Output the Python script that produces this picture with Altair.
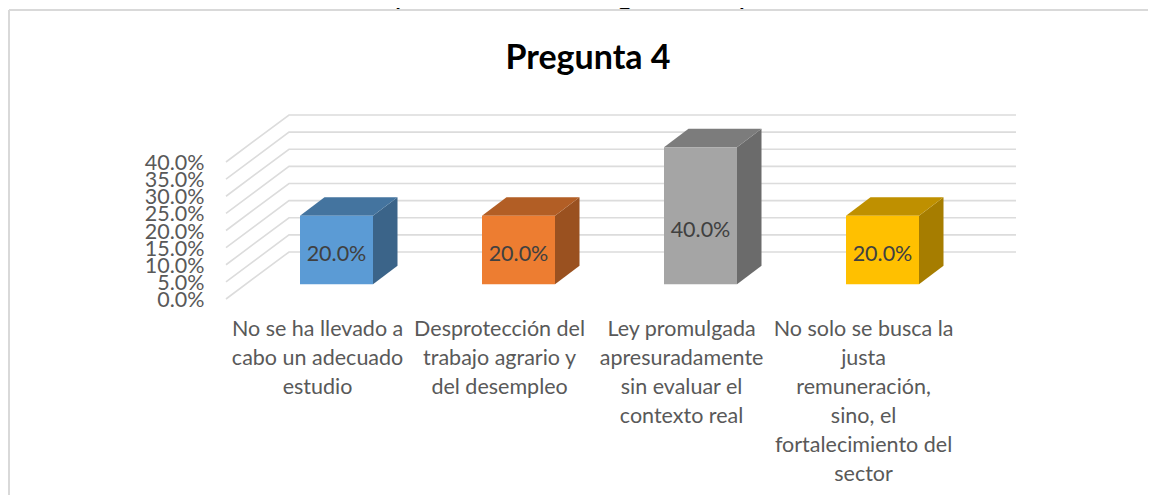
import altair as alt
import pandas as pd

# ---- data ----
categories = [
    "No se ha llevado a\ncabo un adecuado\nestudio",
    "Desprotección del\ntrabajo agrario y\ndel desempleo",
    "Ley promulgada\napresuradamente\nsin evaluar el\ncontexto real",
    "No solo se busca la\njusta\nremuneración,\nsino, el\nfortalecimiento del\nsector",
]
values = [0.20, 0.20, 0.40, 0.20]
value_labels = ["20.0%", "20.0%", "40.0%", "20.0%"]
label_heights = [0.134, 0.134, 0.2015, 0.134]
label_centres = [0.0, 1.0, 2.0, 3.0]
cat_label_centres = [-0.104, 0.896, 1.896, 2.896]
ticks = [0, 0.05, 0.10, 0.15, 0.20, 0.25, 0.30, 0.35, 0.40]
front_colors = ["#5b9bd5", "#ed7d31", "#a5a5a5", "#ffc000"]
top_colors = ["#44749f", "#b25e25", "#7c7c7c", "#bf9000"]
side_colors = ["#3b6489", "#9a5120", "#6b6b6b", "#a67d00"]

# ---- layout constants (page pixels -> data units) ----
PX_X = 182.0
PX_Y = 0.05 / 17.125
def X(px):
    return (px - 336.5) / PX_X
def Y(px):
    return (299 - px) * PX_Y

BAR_W = 73 / PX_X
BAR_DX = 24.5 / PX_X
BAR_DY = 18.5 * PX_Y
BAR_BASE = 14.7 * PX_Y
WALL_DY = 47 * PX_Y

# the page keeps an 8px margin on the right and bottom as well
W, H = 1139, 485
xs = alt.Scale(domain=[X(9), X(9 + W)], nice=False, zero=False)
ys = alt.Scale(domain=[Y(10 + H), Y(10)], nice=False, zero=False)

y_axis = alt.Axis(values=ticks, format=".1%", domain=False, ticks=False,
                  grid=False, title=None, offset=-217, labelPadding=22,
                  labelFont="Lato", labelFontSize=21.5, labelColor="#595959",
                  labelBaseline="middle", labelOverlap=False, labelBound=False,
                  labelFlush=False, labelOffset=1.5)
ex = alt.X("x:Q", scale=xs, axis=None)
ey = alt.Y("y:Q", scale=ys, axis=y_axis)

# wall and floor gridlines
grid_rows = []
for t in ticks:
    grid_rows += [
        {"tick": t, "o": 0, "x": X(226), "y": t},
        {"tick": t, "o": 1, "x": X(289), "y": t + WALL_DY},
        {"tick": t, "o": 2, "x": X(1016), "y": t + WALL_DY},
    ]
grid = alt.Chart(pd.DataFrame(grid_rows)).mark_line(
    color="#dcdcdc", strokeWidth=1.6
).encode(x=ex, y=ey, detail="tick:N", order="o:Q")

# 3D box faces, computed from the values
side_rows, top_rows, front_rows = [], [], []
for i, v in enumerate(values):
    l, r = i - BAR_W / 2, i + BAR_W / 2
    b, t = BAR_BASE, BAR_BASE + v
    front_rows.append({"b": i, "x": l, "x2": r, "y": b, "y2": t})
    side_rows += [
        {"b": i, "x": r, "y": t, "y2": b},
        {"b": i, "x": r + BAR_DX, "y": t + BAR_DY, "y2": b + BAR_DY},
    ]
    top_rows += [
        {"b": i, "x": l, "y": t, "y2": t},
        {"b": i, "x": l + BAR_DX, "y": t + BAR_DY, "y2": t},
        {"b": i, "x": r, "y": t + BAR_DY, "y2": t},
        {"b": i, "x": r + BAR_DX, "y": t + BAR_DY, "y2": t + BAR_DY},
    ]

def face(rows, colors):
    return alt.Chart(pd.DataFrame(rows)).mark_area(orient="vertical", opacity=1, line=False).encode(
        x=ex, y=ey, y2="y2:Q",
        color=alt.Color("b:N", scale=alt.Scale(domain=[0, 1, 2, 3], range=colors), legend=None),
    )

side = face(side_rows, side_colors)
top = face(top_rows, top_colors)
front = alt.Chart(pd.DataFrame(front_rows)).mark_rect().encode(
    x=ex, x2="x2:Q", y=ey, y2="y2:Q",
    color=alt.Color("b:N", scale=alt.Scale(domain=[0, 1, 2, 3], range=front_colors), legend=None),
)

data_labels = alt.Chart(pd.DataFrame({
    "x": label_centres, "y": label_heights, "t": value_labels
})).mark_text(font="Lato", fontSize=21.5, color="#404040", baseline="middle", dy=1.5).encode(
    x=ex, y=ey, text="t:N",
)

cat_labels = alt.Chart(pd.DataFrame({
    "x": cat_label_centres, "y": [Y(330)] * 4, "t": categories
})).mark_text(font="Lato", fontSize=21.5, color="#595959", baseline="middle",
              lineBreak="\n", lineHeight=29).encode(
    x=ex, y=ey, text="t:N",
)

title_txt = alt.Chart(pd.DataFrame({"x": [X(588)], "y": [Y(59)], "t": ["Pregunta 4"]})).mark_text(
    font="Lato", fontSize=34, fontWeight="bold", color="#000000", baseline="middle"
).encode(x=ex, y=ey, text="t:N")

# caption above the chart frame
source_bold = alt.Chart(pd.DataFrame({"x": [X(10)], "y": [Y(4)], "t": ["Fuente"]})).mark_text(
    font="Liberation Sans", fontSize=30, fontWeight="bold", color="#000000",
    baseline="alphabetic", align="left"
).encode(x=ex, y=ey, text="t:N")
source_rest = alt.Chart(pd.DataFrame({"x": [X(108)], "y": [Y(4)],
                                      "t": [": Guía de entrevista aplicada a 10 Abogados especialistas."]})).mark_text(
    font="Liberation Sans", fontSize=30, color="#000000", baseline="alphabetic", align="left"
).encode(x=ex, y=ey, text="t:N")

# frame: only the top and left edges fall inside the window
frame_top = alt.Chart(pd.DataFrame({"a": [0]})).mark_rule(color="#d9d9d9", strokeWidth=2).encode(
    x=alt.value(0), x2=alt.value(W), y=alt.value(0))
frame_left = alt.Chart(pd.DataFrame({"a": [0]})).mark_rule(color="#d9d9d9", strokeWidth=2).encode(
    x=alt.value(0), y=alt.value(0), y2=alt.value(H))

chart = alt.layer(
    grid, side, top, front, data_labels, cat_labels, title_txt,
    source_bold, source_rest, frame_top, frame_left,
).resolve_scale(color="independent").properties(
    width=W, height=H,
    padding={"left": 1, "top": 2, "right": 0, "bottom": 0},
    autosize=alt.AutoSizeParams(type="none"),
    background="#ffffff",
).configure_view(stroke=None)

chart.save("out.html", embed_options={"renderer": "svg", "actions": False})
